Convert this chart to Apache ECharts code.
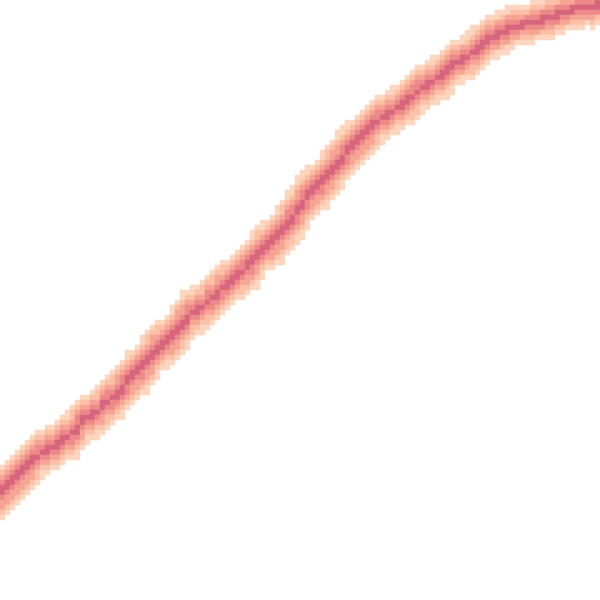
<!DOCTYPE html>
<html>
<head>
<meta charset="utf-8">
<script src="https://cdn.jsdelivr.net/npm/echarts@6/dist/echarts.min.js"></script>
<style>html,body{margin:0;padding:0;background:#fff}#chart{width:600px;height:600px}</style>
</head>
<body>
<div id="chart"></div>
<script>
// Grid of 120 x 120 cells; rows counted from the top.
var columns = [];
for (var i = 0; i < 120; i++) columns.push(String(i));
var rows = columns.slice();

// Centre of the band (row units) for each column.
var curveRow = [
  98.4, 97.4, 96.4, 95.4, 94.4, 93.4, 92.4, 91.4, 90.6, 90.0,
  89.4, 88.8, 88.0, 87.4, 86.6, 85.6, 84.4, 83.6, 83.0, 82.4,
  81.4, 80.4, 79.6, 78.6, 77.6, 76.4, 75.4, 74.4, 73.4, 72.2,
  71.0, 69.8, 69.0, 68.2, 67.2, 66.0, 64.8, 63.6, 62.6, 62.0,
  61.4, 60.4, 59.6, 58.6, 57.6, 56.8, 56.0, 55.2, 54.4, 53.4,
  52.4, 51.2, 50.0, 49.2, 48.4, 47.2, 46.2, 44.8, 43.6, 42.2,
  40.8, 39.4, 38.4, 37.4, 36.4, 35.2, 34.0, 32.8, 31.6, 30.4,
  29.4, 28.4, 27.4, 26.4, 25.4, 24.4, 23.6, 23.0, 22.4, 21.6,
  21.0, 20.2, 19.4, 18.4, 17.6, 17.0, 16.4, 15.6, 15.0, 14.2,
  13.2, 12.4, 12.0, 11.4, 10.6, 9.8, 9.0, 8.2, 7.6, 7.0,
  6.6, 6.0, 5.6, 5.2, 5.0, 4.8, 4.6, 4.2, 4.0, 3.6,
  3.4, 3.0, 2.6, 2.2, 2.0, 1.8, 1.6, 1.4, 1.4, 1.0
];

// Intensity by distance (in cells, across the band) from the centre line.
var profileDist = [0, 0.65, 1.45, 2.25, 3.05, 4.05];
var profileValue = [5, 4, 3, 2, 1, 0];

var levelColors = ['#fee8da', '#fdd6c0', '#fbc0a6', '#f6a594', '#ec8a89', '#d6657d'];

function level(d) {
  for (var k = 1; k < profileDist.length; k++) {
    if (d < profileDist[k]) return profileValue[k - 1];
  }
  return -1;
}

var data = [];
for (var c = 0; c < columns.length; c++) {
  var lo = Math.max(0, c - 1), hi = Math.min(curveRow.length - 1, c + 1);
  var slope = (curveRow[hi] - curveRow[lo]) / (hi - lo);
  var cosA = 1 / Math.sqrt(1 + slope * slope);
  for (var r = 0; r < rows.length; r++) {
    var d = Math.abs(r + 0.5 - curveRow[c]) * cosA;
    var v = level(d);
    if (v >= 0) data.push([c, r, v]);
  }
}

var chart = echarts.init(document.getElementById('chart'));
chart.setOption({
  animation: false,
  grid: { left: 0, right: 0, top: 0, bottom: 0 },
  xAxis: { type: 'category', data: columns, show: false },
  yAxis: { type: 'category', data: rows, inverse: true, show: false },
  visualMap: {
    show: false, type: 'piecewise', dimension: 2,
    pieces: [
      { value: 0, color: levelColors[0] },
      { value: 1, color: levelColors[1] },
      { value: 2, color: levelColors[2] },
      { value: 3, color: levelColors[3] },
      { value: 4, color: levelColors[4] },
      { value: 5, color: levelColors[5] }
    ]
  },
  series: [{ type: 'heatmap', data: data, itemStyle: { borderWidth: 0 } }]
});
</script>
</body>
</html>
